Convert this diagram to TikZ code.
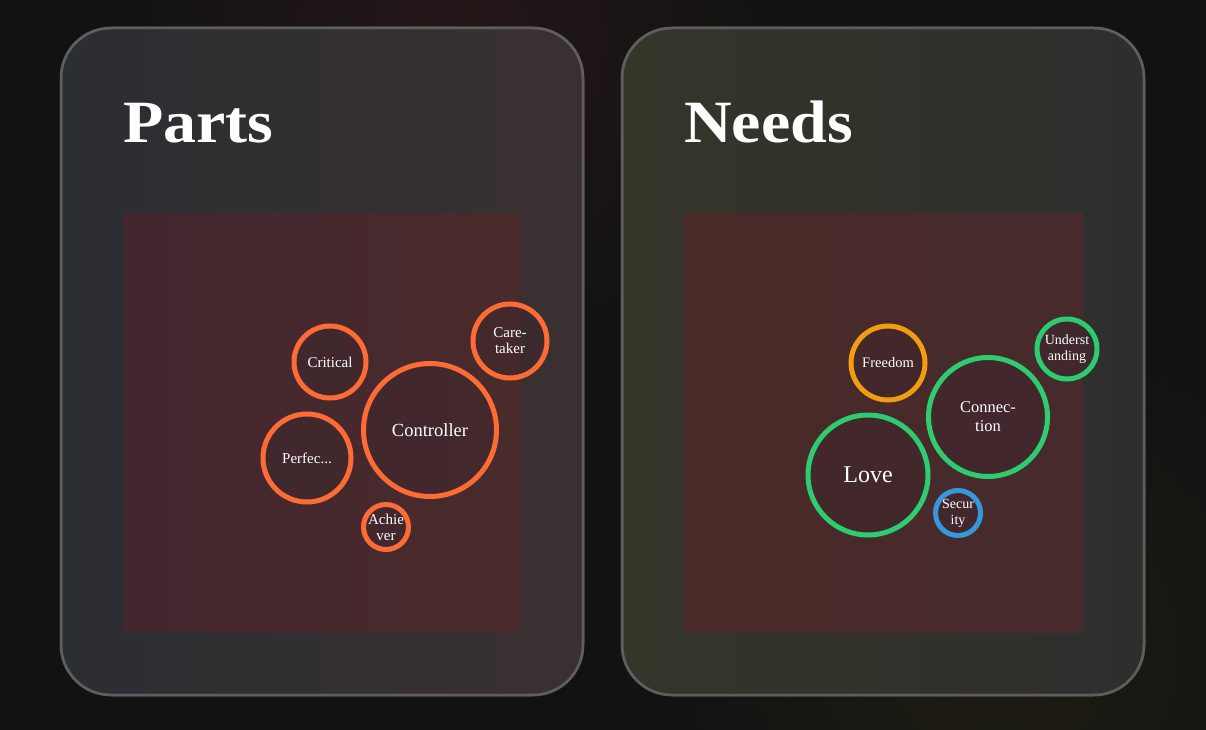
\documentclass[tikz,border=0pt]{standalone}
\usepackage{fontspec}
\setmainfont{Liberation Serif}
\begin{document}
\definecolor{pagebg}{HTML}{121212}
\definecolor{glowred}{HTML}{241618}
\definecolor{glowolive}{HTML}{1E1C12}
\definecolor{cardline}{HTML}{5E5E5E}
\definecolor{partsA}{HTML}{2B2E33}
\definecolor{partsB}{HTML}{3A3031}
\definecolor{needsA}{HTML}{36352A}
\definecolor{needsB}{HTML}{2E2E2D}
\definecolor{plateA}{HTML}{42272F}
\definecolor{plateB}{HTML}{4A2B2C}
\definecolor{plateC}{HTML}{4A2A28}
\definecolor{plateD}{HTML}{462A2C}
\definecolor{partcol}{HTML}{FF6B35}
\definecolor{greencol}{HTML}{2ECC71}
\definecolor{orangecol}{HTML}{F39C12}
\definecolor{bluecol}{HTML}{3498DB}
\definecolor{bubblefill}{HTML}{3F282D}
\begin{tikzpicture}[x=1pt,y=-1pt,
  card/.style={rounded corners=50pt, draw=cardline, line width=2.5pt},
  cardtitle/.style={anchor=base west, text=white, font=\fontsize{60}{66}\selectfont\bfseries, inner sep=0, xscale=1.1},
  bubble/.style={circle, draw, line width=5pt, fill=bubblefill, fill opacity=0.6, text opacity=1,
    text=white, inner sep=0, align=center, font=\fontsize{15}{16}\selectfont},
  partbubble/.style={bubble, draw=partcol},
]
\useasboundingbox (0,0) rectangle (1206,730);
% page background with faint glows
\fill[pagebg] (0,0) rectangle (1206,730);
\begin{scope}
\clip (0,0) rectangle (1206,730);
\shade[inner color=glowred, outer color=pagebg] (450,40) circle (330);
\shade[inner color=glowolive, outer color=pagebg] (1000,650) circle (330);
\end{scope}

% cards
\shade[card, left color=partsA, right color=partsB] (61,28) rectangle (583,695);
\draw[card] (61,28) rectangle (583,695);
\shade[card, left color=needsA, right color=needsB] (622,28) rectangle (1144,695);
\draw[card] (622,28) rectangle (1144,695);

% titles
\node[cardtitle] (tparts) at (123,143) {Parts};
\node[cardtitle] (tneeds) at (684,143) {Needs};

% plates
\shade[left color=plateA, right color=plateB] (123,213) rectangle (521,632);
\shade[left color=plateC, right color=plateD] (684,213) rectangle (1083,632);

% parts bubbles
\node[partbubble, minimum size=133pt, font=\fontsize{18.5}{20}\selectfont] (ctrl) at (430,430) {Controller};
\node[partbubble, minimum size=72pt] (crit) at (330,362) {Critical};
\node[partbubble, minimum size=74pt] (care) at (510,341) {Care-\\taker};
\node[partbubble, minimum size=88pt] (perf) at (307,458) {Perfec...};
\node[partbubble, minimum size=45pt] (achv) at (386,527) {Achie\\ver};

% needs bubbles
\node[bubble, draw=greencol, minimum size=120pt, font=\fontsize{24}{26}\selectfont] (love) at (868,475) {Love};
\node[bubble, draw=greencol, minimum size=119pt, font=\fontsize{16.5}{19}\selectfont] (conn) at (988,417) {Connec-\\tion};
\node[bubble, draw=orangecol, minimum size=74pt, font=\fontsize{14.5}{16}\selectfont] (free) at (888,363) {Freedom};
\node[bubble, draw=greencol, minimum size=60pt, font=\fontsize{14}{16}\selectfont] (undr) at (1067,349) {Underst\\anding};
\node[bubble, draw=bluecol, minimum size=45pt, font=\fontsize{14}{16}\selectfont] (secu) at (958,513) {Secur\\ity};
\end{tikzpicture}
\end{document}
